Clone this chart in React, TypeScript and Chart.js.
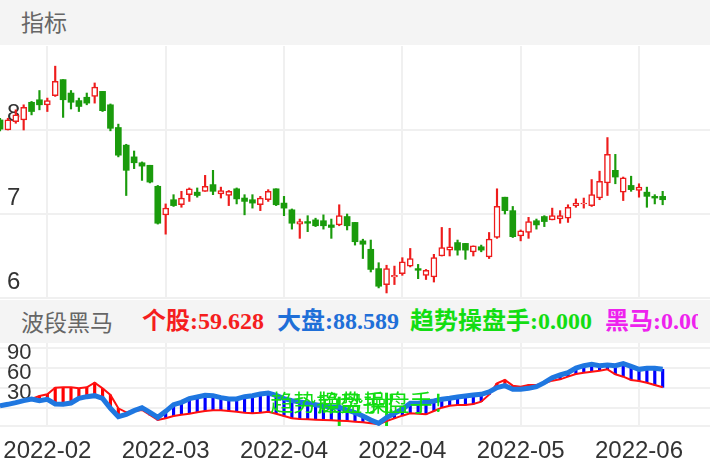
import React, { useEffect, useRef } from 'react';
import { Chart, registerables } from 'chart.js';

Chart.register(...registerables);

// ---------- data ----------
const candleOpen = [
  8.12, 8.0, 8.1, 8.12, 8.33, 8.36, 8.3, 8.41, 8.6, 8.44,
  8.35, 8.39, 8.4, 8.46, 8.3, 8.03, 7.82, 7.68, 7.61, 7.58,
  7.33, 6.99, 7.17, 7.11, 7.23, 7.26, 7.27, 7.35, 7.24, 7.22,
  7.3, 7.19, 7.17, 7.11, 7.17, 7.3, 7.13, 7.05, 6.88, 6.91,
  6.93, 6.92, 6.87, 6.87, 6.97, 6.9, 6.68, 6.58, 6.35, 6.16,
  6.25, 6.29, 6.38, 6.35, 6.27, 6.25, 6.5, 6.57, 6.66, 6.65,
  6.55, 6.61, 6.49, 6.72, 7.2, 7.04, 6.74, 6.78, 6.92, 6.97,
  6.93, 6.94, 6.95, 7.1, 7.12, 7.1, 7.19, 7.37, 7.52, 7.26,
  7.34, 7.28, 7.26, 7.21, 7.21,
];
const candleHigh = [
  8.14, 8.14, 8.24, 8.3, 8.34, 8.47, 8.38, 8.76, 8.6, 8.47,
  8.38, 8.44, 8.56, 8.46, 8.31, 8.07, 7.83, 7.75, 7.62, 7.58,
  7.34, 7.12, 7.23, 7.27, 7.31, 7.31, 7.46, 7.52, 7.32, 7.28,
  7.31, 7.23, 7.23, 7.21, 7.29, 7.3, 7.21, 7.06, 6.94, 6.98,
  6.95, 6.99, 6.94, 7.11, 7.0, 6.9, 6.7, 6.69, 6.42, 6.39,
  6.38, 6.48, 6.59, 6.4, 6.34, 6.52, 6.84, 6.83, 6.69, 6.65,
  6.62, 6.63, 6.78, 7.3, 7.2, 7.09, 6.81, 6.96, 6.94, 6.98,
  7.07, 7.04, 7.11, 7.18, 7.19, 7.41, 7.51, 7.91, 7.71, 7.44,
  7.45, 7.36, 7.32, 7.23, 7.27,
];
const candleLow = [
  7.99, 8.0, 8.08, 8.0, 8.18, 8.24, 8.22, 8.4, 8.15, 8.25,
  8.22, 8.3, 8.32, 8.22, 7.99, 7.68, 7.22, 7.54, 7.4, 7.37,
  6.88, 6.76, 7.09, 7.08, 7.15, 7.2, 7.27, 7.23, 7.19, 7.1,
  7.12, 6.99, 7.07, 7.04, 7.15, 7.1, 6.98, 6.82, 6.71, 6.79,
  6.85, 6.82, 6.71, 6.86, 6.81, 6.63, 6.47, 6.31, 6.12, 6.06,
  6.16, 6.27, 6.37, 6.23, 6.22, 6.19, 6.5, 6.5, 6.51, 6.46,
  6.5, 6.55, 6.47, 6.71, 7.0, 6.72, 6.68, 6.71, 6.82, 6.85,
  6.93, 6.89, 6.9, 7.08, 7.07, 7.09, 7.17, 7.22, 7.36, 7.16,
  7.27, 7.2, 7.08, 7.12, 7.11,
];
const candleClose = [
  8.01, 8.12, 8.18, 8.27, 8.22, 8.3, 8.35, 8.58, 8.36, 8.33,
  8.28, 8.32, 8.51, 8.23, 8.02, 7.7, 7.52, 7.61, 7.57, 7.38,
  6.89, 7.07, 7.1, 7.19, 7.3, 7.22, 7.33, 7.27, 7.28, 7.27,
  7.18, 7.15, 7.13, 7.19, 7.27, 7.11, 7.07, 6.89, 6.91, 6.89,
  6.86, 6.86, 6.84, 6.98, 6.86, 6.67, 6.64, 6.34, 6.14, 6.35,
  6.27, 6.43, 6.47, 6.33, 6.33, 6.48, 6.6, 6.61, 6.57, 6.57,
  6.62, 6.57, 6.7, 7.09, 7.04, 6.73, 6.8, 6.91, 6.87, 6.91,
  6.98, 6.98, 7.08, 7.13, 7.13, 7.23, 7.39, 7.71, 7.44, 7.43,
  7.29, 7.32, 7.21, 7.19, 7.17,
];
// 个股 (red line)
const stockLine = [
  3.5, 5.5, 8, 11, 13.5, 18, 20.5, 30.5, 31, 31,
  29.5, 31, 38, 29.5, 19.5, -0.5, -6.5, -4.5, -3, -10.5,
  -18, -15.5, -12, -10, -8.5, -6.5, -4.5, -3.5, -3.5, -4.5,
  -5.5, -7, -8, -7, -5.5, -8.5, -12, -15.5, -16.5, -17,
  -17.5, -18, -18.5, -19, -19.5, -20.5, -21.5, -23, -24.5, -19.5,
  -15.5, -11.5, -8, -8.5, -9.5, -4.5, 0.5, 3.5, 4.5, 4.5,
  6, 9.5, 20, 37, 42, 33.5, 32, 34.5, 34.5, 37,
  41, 43, 47, 51, 53, 54.5, 56, 58, 50.5, 47,
  42, 40.5, 38, 34.5, 31,
];
// 大盘 (blue line)
const marketLine = [
  3.5, 5.5, 8, 11, 13.5, 11, 13, 6, 5.5, 7.5,
  14.5, 17, 18.5, 14.5, -0.5, -13, -9.5, -4, 0.5, -6.5,
  -14, -5, 5, 8.5, 14, 16.5, 19, 18.5, 15.5, 13.5,
  13.5, 17, 18.5, 21, 22.5, 19, 14, 11, 9, 7,
  5, 3, 1.5, 1, -3, -7, -12, -18, -23, -14.5,
  -8, -2, 7, 7, 8.5, 10.5, 13, 14.5, 16.5, 18,
  19.5, 20.5, 24, 30.5, 33.5, 28, 28, 29.5, 32, 38,
  45.5, 49.5, 53, 60, 63.5, 65.5, 63.5, 64.5, 63.5, 66.5,
  62.5, 58, 59.5, 59.5, 58,
];
const monthTickIndex = [6, 21, 36, 51, 66, 81];
const monthTickLabels = ['2022-02', '2022-03', '2022-04', '2022-04', '2022-05', '2022-06'];
const priceTicks = [6, 7, 8];
const indicatorGrid = [-27, 0, 30, 60, 90];
const indicatorLabels = [30, 60, 90];
const signalIndex = [43, 49];
const signalTop = [16.5, 22.5];
const signalText = '趋势操盘手！';
const signalTextLevel = 9;
const legendNames = ['个股', '大盘', '趋势操盘手', '黑马'];
const legendValues = ['59.628', '88.589', '0.000', '0.000'];

// ---------- styles ----------
const RED = '#ee1c1c';
const GREEN = '#1a9b0c';
const GRID = '#f0f0f0';
const LEGEND_COLORS = ['#f51e1e', '#1f6fd8', '#12dd12', '#ee22ee'];
const LEGEND_LEFT = [142, 277, 410, 605];
const SANS = '"Liberation Sans", Arial, sans-serif';
const CJK = '"Noto Sans CJK SC", sans-serif';

const X_MIN = 0;
const X_MAX = 90;

const noPadding = (s: any) => {
  s.paddingTop = 0;
  s.paddingBottom = 0;
  s.paddingLeft = 0;
  s.paddingRight = 0;
};

function PriceChart() {
  const ref = useRef<HTMLCanvasElement>(null);
  useEffect(() => {
    const up = candleClose.map((c, i) => c >= candleOpen[i]);
    const chart = new Chart(ref.current as HTMLCanvasElement, {
      type: 'bar',
      data: {
        datasets: [
          {
            label: 'body',
            data: candleOpen.map((o, i) => ({ x: i, y: [o, candleClose[i]] })) as any,
            backgroundColor: up.map((u) => (u ? '#ffffff' : GREEN)),
            borderColor: up.map((u) => (u ? RED : GREEN)),
            borderWidth: up.map((u) => (u ? 1.5 : 0)),
            borderSkipped: false,
            barThickness: 6,
            grouped: false,
            order: 0,
          } as any,
          {
            label: 'wick',
            data: candleLow.map((l, i) => ({ x: i, y: [l, candleHigh[i]] })) as any,
            backgroundColor: up.map((u) => (u ? RED : GREEN)),
            borderWidth: 0,
            barThickness: 1.5,
            grouped: false,
            order: 1,
          } as any,
        ],
      },
      options: {
        animation: false,
        responsive: false,
        events: [],
        layout: { padding: { top: 1, bottom: 2, left: 0, right: 0 } },
        plugins: { legend: { display: false }, tooltip: { enabled: false } },
        scales: {
          x: {
            type: 'linear',
            min: X_MIN,
            max: X_MAX,
            offset: false,
            bounds: 'data',
            grid: { color: GRID, lineWidth: 2, drawTicks: false, offset: false },
            border: { display: false },
            ticks: { display: false },
            afterBuildTicks: (s: any) => {
              s.ticks = monthTickIndex.map((v) => ({ value: v }));
            },
            afterFit: (s: any) => {
              s.height = 0;
              noPadding(s);
            },
          },
          y: {
            type: 'linear',
            position: 'left',
            min: 6,
            max: 9,
            grid: { color: GRID, lineWidth: 2, drawTicks: false },
            border: { display: false },
            ticks: {
              autoSkip: false,
              mirror: true,
              padding: 7,
              labelOffset: -16,
              color: '#333333',
              font: { family: SANS, size: 24 },
              callback: (v: any) => String(v),
            },
            afterBuildTicks: (s: any) => {
              s.ticks = priceTicks.map((v) => ({ value: v }));
            },
            afterFit: (s: any) => {
              s.width = 0;
              noPadding(s);
            },
          },
        },
      } as any,
    });
    return () => chart.destroy();
  }, []);
  return (
    <canvas
      ref={ref}
      width={710}
      height={255}
      style={{ position: 'absolute', left: 0, top: 45, width: 710, height: 255, display: 'block' }}
    />
  );
}

const signalTextPlugin = {
  id: 'signalText',
  afterDatasetsDraw(chart: any) {
    const { ctx, scales } = chart;
    const x = scales.x;
    const y = scales.y;
    ctx.save();
    ctx.font = '23px ' + CJK;
    ctx.fillStyle = '#12dd12';
    ctx.textAlign = 'center';
    ctx.textBaseline = 'middle';
    signalIndex.forEach((i) => {
      ctx.fillText(signalText, x.getPixelForValue(i), y.getPixelForValue(signalTextLevel));
    });
    ctx.restore();
  },
};

function IndicatorChart() {
  const ref = useRef<HTMLCanvasElement>(null);
  useEffect(() => {
    const chart = new Chart(ref.current as HTMLCanvasElement, {
      type: 'bar',
      data: {
        datasets: [
          {
            type: 'line',
            label: '大盘',
            data: marketLine.map((v, i) => ({ x: i, y: v })),
            borderColor: '#1f77e0',
            borderWidth: 5,
            pointRadius: 0,
            tension: 0,
            fill: false,
            order: 0,
          } as any,
          {
            type: 'line',
            label: '个股',
            data: stockLine.map((v, i) => ({ x: i, y: v })),
            borderColor: '#ff1010',
            borderWidth: 2,
            pointRadius: 0,
            tension: 0,
            fill: false,
            order: 1,
          } as any,
          {
            label: 'diff',
            data: stockLine.map((v, i) => ({ x: i, y: [v, marketLine[i]] })) as any,
            backgroundColor: stockLine.map((v, i) => (v > marketLine[i] ? '#ff0000' : '#0000ff')),
            borderWidth: 0,
            barThickness: 2.5,
            grouped: false,
            order: 2,
          } as any,
          {
            label: '趋势操盘手',
            data: signalIndex.map((idx, k) => ({ x: idx, y: [-27, signalTop[k]] })) as any,
            backgroundColor: '#12dd12',
            borderWidth: 0,
            barThickness: 2.3,
            grouped: false,
            order: 3,
          } as any,
        ],
      },
      options: {
        animation: false,
        responsive: false,
        events: [],
        layout: { padding: 0 },
        plugins: { legend: { display: false }, tooltip: { enabled: false } },
        scales: {
          x: {
            type: 'linear',
            min: X_MIN,
            max: X_MAX,
            offset: false,
            bounds: 'data',
            grid: { color: GRID, lineWidth: 2, drawTicks: false, offset: false },
            border: { display: false },
            ticks: {
              autoSkip: false,
              maxRotation: 0,
              padding: 11,
              color: '#333333',
              font: { family: SANS, size: 24 },
              callback: (_v: any, index: number) => monthTickLabels[index] ?? '',
            },
            afterBuildTicks: (s: any) => {
              s.ticks = monthTickIndex.map((v) => ({ value: v }));
            },
            afterFit: (s: any) => {
              s.height = 46;
              noPadding(s);
            },
          },
          y: {
            type: 'linear',
            position: 'left',
            min: -27,
            max: 97.5,
            grid: { color: GRID, lineWidth: 2, drawTicks: false },
            border: { display: false },
            ticks: {
              autoSkip: false,
              mirror: true,
              padding: 7,
              labelOffset: 4.5,
              color: '#333333',
              font: { family: SANS, size: 22 },
              callback: (v: any) => (indicatorLabels.includes(v) ? String(v) : ''),
            },
            afterBuildTicks: (s: any) => {
              s.ticks = indicatorGrid.map((v) => ({ value: v }));
            },
            afterFit: (s: any) => {
              s.width = 0;
              noPadding(s);
            },
          },
        },
      } as any,
      plugins: [signalTextPlugin],
    });
    return () => chart.destroy();
  }, []);
  return (
    <canvas
      ref={ref}
      width={710}
      height={129}
      style={{ position: 'absolute', left: 0, top: 343, width: 710, height: 129, display: 'block' }}
    />
  );
}

export default function App() {
  return (
    <div
      style={{
        position: 'absolute',
        left: 0,
        top: 0,
        width: 710,
        height: 472,
        background: '#ffffff',
        overflow: 'hidden',
      }}
    >
      <div
        style={{
          position: 'absolute',
          left: 0,
          top: 0,
          width: 710,
          height: 45,
          background: '#f4f4f4',
          color: '#666666',
          fontFamily: CJK,
          fontSize: 23,
          lineHeight: '43px',
          paddingLeft: 21,
          boxSizing: 'border-box',
        }}
      >
        指标
      </div>
      <PriceChart />
      <div
        style={{
          position: 'absolute',
          left: 0,
          top: 300,
          width: 710,
          height: 43,
          background: '#f4f4f4',
        }}
      >
        <div
          style={{
            position: 'absolute',
            left: 21,
            top: 0,
            lineHeight: '43px',
            fontFamily: CJK,
            fontSize: 23,
            color: '#666666',
            whiteSpace: 'nowrap',
          }}
        >
          波段黑马
        </div>
        <div style={{ position: 'absolute', left: 0, top: 0, width: 698, height: 43, overflow: 'hidden' }}>
          {legendNames.map((name, i) => (
            <span
              key={name}
              style={{
                position: 'absolute',
                left: LEGEND_LEFT[i],
                top: 0,
                lineHeight: '43px',
                fontFamily: '"Liberation Serif", "Noto Sans CJK SC", serif',
                fontWeight: 'bold',
                fontSize: 24,
                color: LEGEND_COLORS[i],
                whiteSpace: 'nowrap',
              }}
            >
              {name + ':' + legendValues[i]}
            </span>
          ))}
        </div>
      </div>
      <IndicatorChart />
    </div>
  );
}
